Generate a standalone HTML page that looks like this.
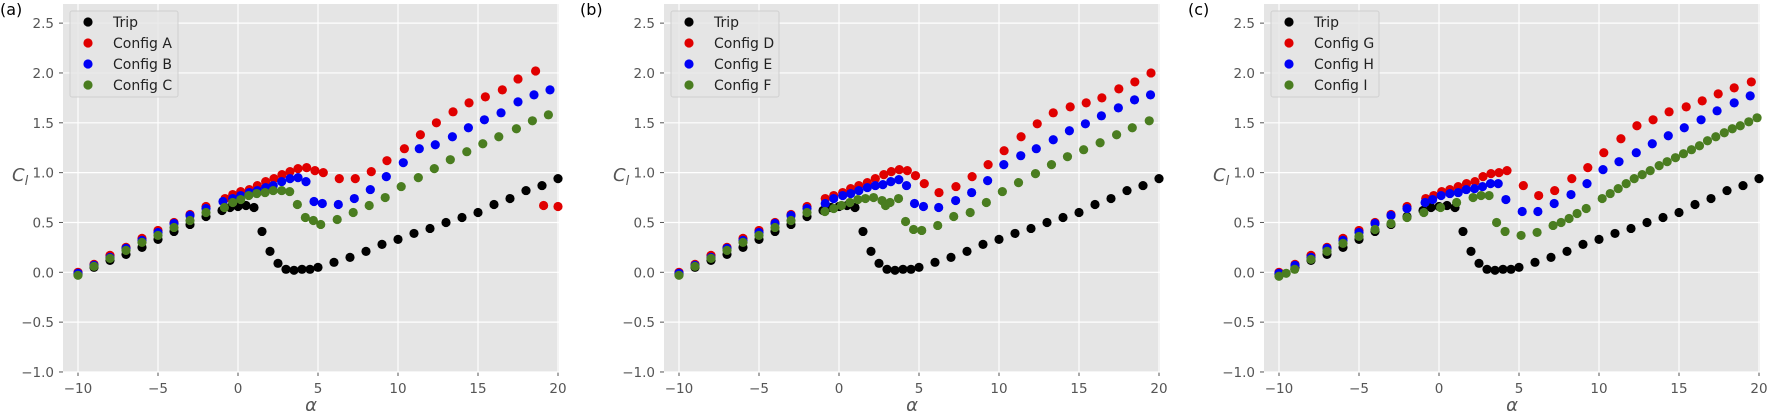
<!DOCTYPE html>
<html><head><meta charset="utf-8"><style>
html,body{margin:0;padding:0;background:#fff;}
svg{display:block;font-family:"DejaVu Sans","Liberation Sans",sans-serif;}
</style></head><body>
<svg id="fig" width="1767" height="416" viewBox="0 0 1767 416" xmlns="http://www.w3.org/2000/svg"></svg>
<script>
const xTicks=[-10,-5,0,5,10,15,20];
const yTicks=[-1.0,-0.5,0.0,0.5,1.0,1.5,2.0,2.5];
const panelLabels=["(a)","(b)","(c)"];
const legendNamesA=["Trip","Config A","Config B","Config C"];
const legendNamesB=["Trip","Config D","Config E","Config F"];
const legendNamesC=["Trip","Config G","Config H","Config I"];

const tripX=[-10,-9,-8,-7,-6,-5,-4,-3,-2,-1,-0.5,0,0.5,1,1.5,2,2.5,3,3.5,4,4.5,5,6,7,8,9,10,11,12,13,14,15,16,17,18,19,20];
const tripY=[-0.02,0.05,0.12,0.18,0.25,0.33,0.41,0.48,0.56,0.62,0.65,0.66,0.67,0.65,0.41,0.21,0.09,0.03,0.02,0.03,0.03,0.05,0.10,0.15,0.21,0.28,0.33,0.39,0.44,0.50,0.55,0.60,0.68,0.74,0.82,0.87,0.94];

const lowX=[-10,-9,-8,-7,-6,-5,-4,-3,-2];
const redLowY=[0.0,0.08,0.17,0.25,0.34,0.42,0.50,0.58,0.66];
const blueLowY=[-0.01,0.07,0.15,0.24,0.32,0.40,0.49,0.57,0.64];
const greenLowY=[-0.03,0.06,0.14,0.22,0.30,0.37,0.45,0.52,0.60];

const aX=[-0.81,-0.33,0.17,0.71,1.21,1.73,2.25,2.75,3.25,3.75,4.29,4.81,5.33,6.33,7.33,8.33,9.31,10.4,11.4,12.4,13.44,14.44,15.46,16.52,17.5,18.6,19.1,20];
const aY=[0.74,0.78,0.81,0.83,0.87,0.91,0.94,0.98,1.01,1.04,1.05,1.02,1.00,0.94,0.94,1.01,1.12,1.24,1.38,1.50,1.61,1.70,1.76,1.83,1.94,2.02,0.67,0.66];
const bX=[-0.94,-0.33,0.17,0.71,1.21,1.73,2.2,2.73,3.25,3.75,4.25,4.75,5.27,6.27,7.27,8.27,9.27,10.33,11.33,12.33,13.4,14.4,15.4,16.44,17.5,18.5,19.5];
const bY=[0.71,0.74,0.77,0.80,0.82,0.85,0.87,0.91,0.94,0.95,0.91,0.71,0.69,0.68,0.74,0.83,0.96,1.10,1.24,1.28,1.36,1.45,1.53,1.60,1.71,1.78,1.83];
const cX=[-0.85,-0.33,0.17,0.67,1.17,1.69,2.2,2.73,3.23,3.71,4.21,4.71,5.17,6.2,7.2,8.2,9.2,10.2,11.27,12.27,13.27,14.3,15.3,16.3,17.4,18.4,19.4];
const cY=[0.65,0.70,0.73,0.77,0.79,0.80,0.82,0.82,0.81,0.68,0.55,0.52,0.48,0.53,0.60,0.67,0.75,0.86,0.95,1.04,1.13,1.21,1.29,1.36,1.44,1.52,1.58];

const dX=[-0.86,-0.33,0.23,0.73,1.24,1.77,2.27,2.8,3.27,3.77,4.27,4.78,5.33,6.25,7.31,8.32,9.32,10.32,11.38,12.39,13.39,14.45,15.45,16.43,17.49,18.49,19.5];
const dY=[0.74,0.77,0.80,0.84,0.87,0.90,0.94,0.98,1.01,1.03,1.02,0.97,0.89,0.80,0.86,0.96,1.08,1.22,1.36,1.49,1.60,1.66,1.70,1.75,1.84,1.91,2.00];
const eX=[-0.86,-0.33,0.23,0.73,1.24,1.77,2.27,2.74,3.24,3.74,4.22,4.72,5.28,6.23,7.29,8.29,9.29,10.3,11.36,12.33,13.39,14.4,15.4,16.4,17.46,18.47,19.47];
const eY=[0.69,0.74,0.77,0.79,0.82,0.85,0.87,0.88,0.91,0.93,0.87,0.69,0.66,0.65,0.72,0.80,0.92,1.08,1.17,1.24,1.33,1.42,1.49,1.57,1.65,1.73,1.78];
const fX=[-0.88,-0.33,0.15,0.68,1.18,1.65,2.16,2.69,2.91,3.19,3.72,4.16,4.66,5.17,6.17,7.17,8.2,9.21,10.21,11.22,12.28,13.28,14.28,15.29,16.32,17.35,18.33,19.39];
const fY=[0.61,0.64,0.67,0.70,0.73,0.74,0.75,0.72,0.67,0.70,0.74,0.51,0.43,0.42,0.47,0.56,0.60,0.70,0.81,0.90,0.99,1.08,1.16,1.23,1.30,1.38,1.45,1.52];

const gX=[-0.83,-0.33,0.17,0.68,1.2,1.72,2.25,2.75,3.25,3.75,4.25,5.27,6.23,7.23,8.3,9.3,10.3,11.37,12.37,13.38,14.38,15.45,16.45,17.45,18.45,19.52];
const gY=[0.74,0.77,0.81,0.83,0.86,0.89,0.91,0.96,0.99,1.00,1.02,0.87,0.77,0.82,0.94,1.05,1.20,1.34,1.47,1.53,1.61,1.66,1.72,1.79,1.85,1.91];
const hX=[-0.87,-0.4,0.13,0.68,1.2,1.7,2.22,2.72,3.22,3.7,4.18,5.2,6.18,7.2,8.25,9.25,10.25,11.25,12.33,13.33,14.33,15.33,16.38,17.38,18.45,19.45];
const hY=[0.70,0.73,0.77,0.79,0.80,0.83,0.84,0.86,0.89,0.89,0.73,0.61,0.61,0.69,0.78,0.89,1.03,1.11,1.20,1.29,1.37,1.45,1.53,1.62,1.70,1.77];
const iLowX=[-10,-9.55,-9.02,-8,-7,-6,-5,-4,-3,-2];
const iLowY=[-0.04,-0.01,0.03,0.13,0.21,0.29,0.36,0.43,0.49,0.55];
const iX=[-0.95,0.1,1.1,2.13,2.63,3.13,3.6,4.13,5.13,6.13,7.13,7.63,8.13,8.63,9.2,10.2,10.7,11.2,11.7,12.2,12.7,13.2,13.76,14.26,14.78,15.28,15.78,16.28,16.78,17.3,17.83,18.33,18.83,19.36,19.88];
const iY=[0.60,0.65,0.70,0.75,0.77,0.77,0.50,0.41,0.37,0.40,0.47,0.50,0.54,0.59,0.64,0.74,0.79,0.84,0.89,0.94,0.98,1.02,1.07,1.11,1.15,1.19,1.23,1.27,1.32,1.36,1.40,1.44,1.47,1.51,1.55];

const RED="#e00000",BLUE="#0000f5",GREEN="#4a7d20",BLACK="#000";
const NS="http://www.w3.org/2000/svg";
const svg=document.getElementById('fig');
function mk(tag,attrs,parent){const e=document.createElementNS(NS,tag);for(const k in attrs)e.setAttribute(k,attrs[k]);(parent||svg).appendChild(e);return e;}

const panels=[
 {L:63,names:legendNamesA,series:[[tripX,tripY,BLACK],[lowX.concat(aX),redLowY.concat(aY),RED],[lowX.concat(bX),blueLowY.concat(bY),BLUE],[lowX.concat(cX),greenLowY.concat(cY),GREEN]]},
 {L:664,names:legendNamesB,series:[[tripX,tripY,BLACK],[lowX.concat(dX),redLowY.concat(dY),RED],[lowX.concat(eX),blueLowY.concat(eY),BLUE],[lowX.concat(fX),greenLowY.concat(fY),GREEN]]},
 {L:1264,names:legendNamesC,series:[[tripX,tripY,BLACK],[lowX.concat(gX),redLowY.concat(gY),RED],[lowX.concat(hX),blueLowY.concat(hY),BLUE],[iLowX.concat(iX),iLowY.concat(iY),GREEN]]}
];
const TOP=4,BOT=372,W=496;
const seriesNames=["trip","config-red","config-blue","config-green"];
panels.forEach((p,pi)=>{
  const L=p.L;
  const xs=v=>L+15+(v+10)*16;
  const ys=v=>272.3-99.67*v;
  const g=mk('g',{});
  
  
  const bg=mk('rect',{x:L,y:TOP,width:W,height:BOT-TOP,fill:'#e5e5e5'},g);
  
  
  xTicks.forEach(t=>{
    const x=xs(t);
    const gl=mk('line',{x1:x,x2:x,y1:TOP,y2:BOT,stroke:'#fff','stroke-width':1.2},g);
    
    
    mk('line',{x1:x,x2:x,y1:BOT,y2:BOT+4,stroke:'#555','stroke-width':1},g);
    const tx=mk('text',{x:x,y:BOT+21,'text-anchor':'middle','font-size':13.5,fill:'#555'},g);
    tx.textContent=(t<0?'\u2212'+(-t):''+t);
    
    
  });
  yTicks.forEach(t=>{
    const y=ys(t);
    const gl=mk('line',{x1:L,x2:L+W,y1:y,y2:y,stroke:'#fff','stroke-width':1.2},g);
    
    
    mk('line',{x1:L-4,x2:L,y1:y,y2:y,stroke:'#555','stroke-width':1},g);
    const tx=mk('text',{x:L-9,y:y+5,'text-anchor':'end','font-size':13.5,fill:'#555'},g);
    tx.textContent=(t<0?'\u2212'+(-t).toFixed(1):t.toFixed(1));
    
    
  });
  p.series.forEach((s,si)=>{
    const sg=mk('g',{fill:s[2]},g);
    
    
    s[0].forEach((xv,k)=>{
      const c=mk('circle',{cx:xs(xv),cy:ys(s[1][k]),r:4.6},sg);
      
      
    });
  });
  const lg=mk('g',{},g);
  
  
  mk('rect',{x:L+7,y:11,width:108,height:86,rx:2,fill:'#e5e5e5',stroke:'#d0d0d0','stroke-width':1,'fill-opacity':0.8},lg);
  p.names.forEach((n,k)=>{
    const y=21+k*21;
    const m=mk('circle',{cx:L+25,cy:y+1,r:4.6,fill:p.series[k][2]},lg);
    
    
    const t=mk('text',{x:L+50,y:y+6,'font-size':14,fill:'#222'},lg);
    t.textContent=n;
    
    
  });
  const yl=mk('text',{x:L-51,y:181,'font-size':18,'font-style':'italic',fill:'#555'},g);
  yl.innerHTML='C<tspan font-size="13" dy="4">l</tspan>';
  
  
  const xl=mk('text',{x:L+W/2,y:411,'text-anchor':'middle','font-size':18,'font-style':'italic',fill:'#555'},g);
  xl.textContent='\u03b1';
  
  
  const pl=mk('text',{x:[0,580,1188][pi],y:15,'font-size':16,fill:'#000'},g);
  pl.textContent=panelLabels[pi];
  
  
});
</script>
</body></html>
